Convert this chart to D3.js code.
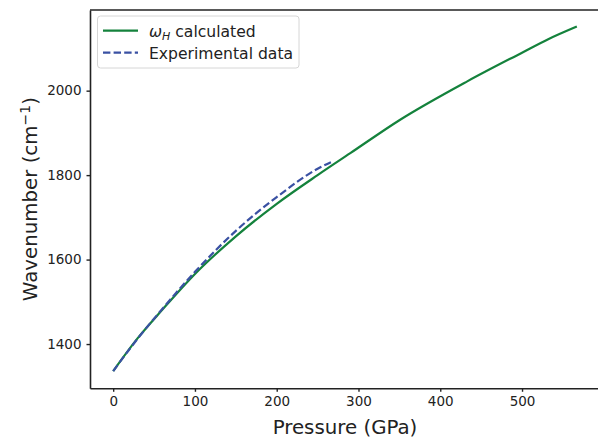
<!DOCTYPE html>
<html>
<head>
<meta charset="utf-8">
<script src="https://cdn.jsdelivr.net/npm/d3@7"></script>
<style>
  body { margin: 0; background: #fff; }
  svg { display: block; font-family: "DejaVu Sans", sans-serif; }
</style>
</head>
<body>
<div id="chart"></div>
<script>
// calculated omega_H vs pressure
const calcPressure = [0, 30, 60, 100, 150, 200, 250, 290, 350, 433, 500, 532, 567];
const calcWave     = [1336, 1414, 1481, 1566, 1655, 1732, 1800, 1852, 1930, 2022, 2090, 2122, 2152];

// experimental data
const expPressure = [0, 30, 60, 100, 150, 200, 250, 269];
const expWave     = [1336, 1413, 1483, 1571, 1668, 1748, 1815, 1833];

const xTicks = [0, 100, 200, 300, 400, 500];
const yTicks = [1400, 1600, 1800, 2000];

const width = 598, height = 438;
const margin = { top: 10, right: -2, bottom: 50, left: 90 };

const svg = d3.select("#chart").append("svg")
    .attr("width", width).attr("height", height);

const x = d3.scaleLinear().domain([-28.35, 595.35]).range([margin.left, width - margin.right]);
const y = d3.scaleLinear().domain([1295.2, 2191]).range([388.3, margin.top]);

const calc = calcPressure.map((p, i) => ({ p, w: calcWave[i] }));
const exp = expPressure.map((p, i) => ({ p, w: expWave[i] }));

const line = d3.line().x(d => x(d.p)).y(d => y(d.w)).curve(d3.curveMonotoneX);

svg.append("path").datum(calc)
    .attr("d", line)
    .attr("fill", "none")
    .attr("stroke", "#14823c")
    .attr("stroke-width", 2.2);

svg.append("path").datum(exp)
    .attr("d", line)
    .attr("fill", "none")
    .attr("stroke", "#3a51a3")
    .attr("stroke-width", 2.2)
    .attr("stroke-dasharray", "7.4,3.2");

// axes
const fmt = d3.format("d");
const xAxis = svg.append("g")
    .attr("transform", `translate(0,${y.range()[0]})`)
    .call(d3.axisBottom(x).tickValues(xTicks).tickFormat(fmt).tickSize(3.5).tickPadding(5).tickSizeOuter(0));
const yAxis = svg.append("g")
    .attr("transform", `translate(${margin.left},0)`)
    .call(d3.axisLeft(y).tickValues(yTicks).tickFormat(fmt).tickSize(3.5).tickPadding(5).tickSizeOuter(0));

[xAxis, yAxis].forEach(g => {
    g.select(".domain").attr("stroke", "#222").attr("stroke-width", 1.6);
    g.selectAll(".tick line").attr("stroke", "#222").attr("stroke-width", 1.4);
    g.selectAll(".tick text").attr("fill", "#222")
        .style("font-size", "13.5px").style("font-family", "DejaVu Sans, sans-serif");
});

// top spine
svg.append("line")
    .attr("x1", margin.left).attr("x2", width + 5)
    .attr("y1", margin.top).attr("y2", margin.top)
    .attr("stroke", "#222").attr("stroke-width", 1.6);

// axis labels
svg.append("text")
    .attr("x", x(283.5)).attr("y", 434)
    .attr("text-anchor", "middle")
    .style("font-size", "19.8px").attr("fill", "#222")
    .text("Pressure (GPa)");

const yl = svg.append("text")
    .attr("transform", `translate(37,${(10 + 388.3) / 2}) rotate(-90)`)
    .attr("text-anchor", "middle")
    .style("font-size", "19.8px").attr("fill", "#222");
yl.append("tspan").text("Wavenumber (cm");
yl.append("tspan").attr("dy", -7).style("font-size", "14px").text("\u22121");
yl.append("tspan").attr("dy", 7).text(")");

// legend
const leg = svg.append("g");
leg.append("rect")
    .attr("x", 97.5).attr("y", 16).attr("width", 201.5).attr("height", 52)
    .attr("rx", 3)
    .attr("fill", "#fff").attr("fill-opacity", 0.8)
    .attr("stroke", "#d6d6d6").attr("stroke-width", 1);

leg.append("line")
    .attr("x1", 103).attr("x2", 138).attr("y1", 30.7).attr("y2", 30.7)
    .attr("stroke", "#14823c").attr("stroke-width", 2.2);
leg.append("line")
    .attr("x1", 103).attr("x2", 138).attr("y1", 52.7).attr("y2", 52.7)
    .attr("stroke", "#3a51a3").attr("stroke-width", 2.2)
    .attr("stroke-dasharray", "7.4,3.2");

const t1 = leg.append("text")
    .attr("x", 149).attr("y", 36.5)
    .style("font-size", "15.6px").attr("fill", "#222");
t1.append("tspan").style("font-style", "italic").text("\u03c9");
t1.append("tspan").attr("dy", 3.5).style("font-size", "11px").style("font-style", "italic").text("H");
t1.append("tspan").attr("dy", -3.5).text(" calculated");

leg.append("text")
    .attr("x", 149).attr("y", 58.5)
    .style("font-size", "15.6px").attr("fill", "#222")
    .text("Experimental data");
</script>
</body>
</html>
